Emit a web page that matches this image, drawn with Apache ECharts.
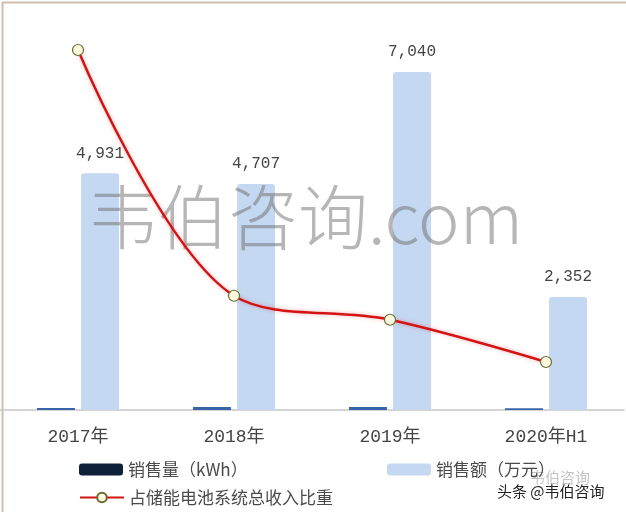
<!DOCTYPE html>
<html>
<head>
<meta charset="utf-8">
<script src="https://cdn.jsdelivr.net/npm/echarts@6/dist/echarts.min.js"></script>
<style>
  html, body { margin: 0; padding: 0; background: #ffffff; }
  #chart { width: 626px; height: 512px; }
</style>
</head>
<body>
<div id="chart"></div>
<script>
const categories = ['2017年', '2018年', '2019年', '2020年H1'];
const salesVolume = [40, 65, 65, 35];          // 销售量（kWh）, tiny bars
const salesAmount = [4931, 4707, 7040, 2352];  // 销售额（万元）
const revenueShare = [0.375, 0.119, 0.094, 0.05]; // 占储能电池系统总收入比重

const nameVol = '销售量（kWh）';
const nameAmt = '销售额（万元）';
const nameShare = '占储能电池系统总收入比重';

const chart = echarts.init(document.getElementById('chart'));
const legendText = { fontSize: 17, color: '#4a4a4a', fontFamily: 'Noto Sans CJK SC' };

chart.setOption({
  backgroundColor: '#ffffff',
  animation: false,
  grid: { left: 0, right: 2, top: 26, bottom: 102 },
  xAxis: {
    type: 'category',
    data: categories,
    axisLine: { show: true, lineStyle: { color: '#c8c8c8', width: 1.5 } },
    axisTick: { show: false },
    axisLabel: { margin: 18, fontSize: 18, color: '#444', fontFamily: 'Liberation Mono, Noto Sans CJK SC' }
  },
  yAxis: [
    { type: 'value', min: 0, max: 8000, show: false, splitLine: { show: false } },
    { type: 'value', min: 0, max: 0.4, show: false, splitLine: { show: false } }
  ],
  legend: [
    { left: 74, top: 456, itemWidth: 44, itemHeight: 12, itemGap: 10, textStyle: legendText,
      data: [{ name: nameVol, itemStyle: { color: '#0f2138' } }] },
    { left: 382, top: 456, itemWidth: 44, itemHeight: 12, textStyle: legendText,
      data: [{ name: nameAmt }] },
    { left: 74, top: 484, itemWidth: 44, itemHeight: 12, textStyle: legendText,
      data: [{ name: nameShare }] }
  ],
  graphic: [
    { type: 'rect', left: 0, top: 0, z: -10, silent: true,
      shape: { width: 625, height: 511 },
      style: { fill: 'none', stroke: '#cbbfb2', lineWidth: 2 } },
    { type: 'text', x: 88, y: 217, z: 3, silent: true,
      style: { text: '韦伯咨询.com', fontSize: 70, fontWeight: 300, fontFamily: 'Noto Sans CJK SC',
               align: 'left', verticalAlign: 'middle', fill: 'rgba(110,110,110,0.5)' } },
    { type: 'text', left: 530, top: 470, z: 3, silent: true,
      style: { text: '韦伯咨询', fontSize: 15, fontFamily: 'Noto Sans CJK SC', fill: 'rgba(60,60,60,0.3)' } },
    { type: 'text', left: 497, top: 484, z: 100, silent: true,
      style: { text: '头条 @韦伯咨询', fontSize: 15, fontFamily: 'Noto Sans CJK SC', fill: '#222' } }
  ],
  series: [
    {
      name: nameVol, type: 'bar', data: salesVolume, barWidth: 38, barGap: '16%',
      itemStyle: { color: '#3a64a8' }
    },
    {
      name: nameAmt, type: 'bar', data: salesAmount, barWidth: 38,
      itemStyle: { color: '#c4d8f1', borderRadius: [3, 3, 0, 0] },
      label: {
        show: true, position: 'top', distance: 12, fontSize: 16, color: '#444',
        fontFamily: 'Liberation Mono',
        formatter: p => p.value.toLocaleString('en-US')
      }
    },
    {
      name: nameShare, type: 'line', yAxisIndex: 1, data: revenueShare, smooth: 0.35, z: 5,
      symbol: 'circle', symbolSize: 11,
      lineStyle: { color: '#d41414', width: 2.5, shadowColor: 'rgba(220,0,0,0.3)', shadowBlur: 4 },
      itemStyle: { color: '#fffbe2', borderColor: '#6b6a2c', borderWidth: 1.2 }
    }
  ]
});
</script>
</body>
</html>
